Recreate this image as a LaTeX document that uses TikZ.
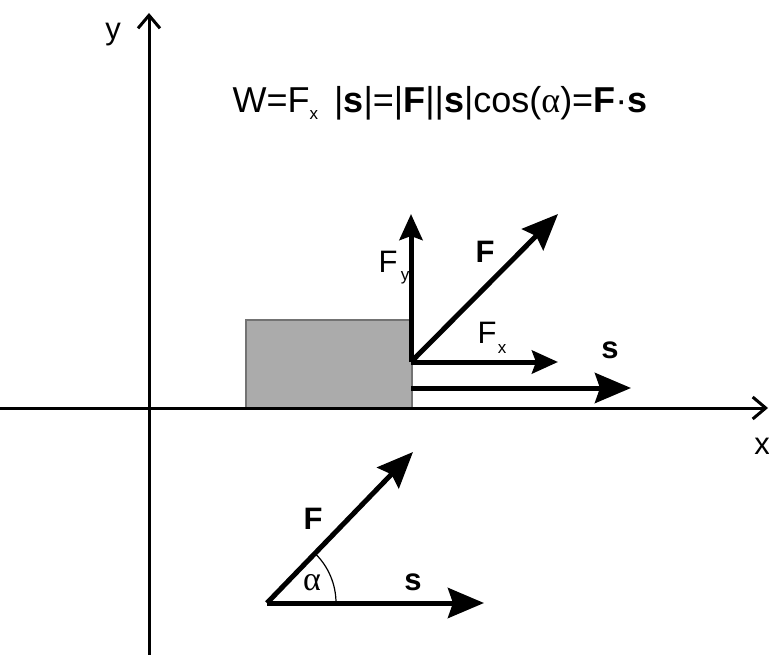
\documentclass[tikz,border=0pt]{standalone}
\usepackage{fontspec}
\setmainfont{Liberation Sans}
\newfontfamily\greekserif{Liberation Serif}
\usetikzlibrary{arrows.meta,calc}
\begin{document}
\begin{tikzpicture}[x=1pt,y=-1pt,
  axis/.style={line width=3pt,-{Straight Barb[length=13pt,width=22pt,line width=3pt]}},
  force/.style={line width=5pt,-{Stealth[length=36pt,width=30pt,inset=5pt]}},
  smallforce/.style={line width=5pt,-{Stealth[length=26pt,width=23pt,inset=4pt]}},
  lbl/.style={inner sep=0pt,font=\fontsize{31}{34}\selectfont},
  blbl/.style={inner sep=0pt,font=\fontsize{31}{34}\selectfont\bfseries},
  sub/.style={inner sep=0pt,font=\fontsize{17}{19}\selectfont}]
\useasboundingbox (0,0) rectangle (769,655);
% block
\draw[fill=black!33,draw=black!55,line width=1.2pt] (246,320) rectangle (412,408);
% axes
\coordinate (xs) at (0,408);
\coordinate (xe) at (768,408);
\coordinate (ys) at (149,655);
\coordinate (ye) at (149,13);
\draw[axis] (xs) -- (xe);
\draw[axis] (ys) -- (ye);
\node[lbl] (ylab) at (113,35) {y};
\node[lbl] (xlab) at (762,446) {x};
% formula
\node[inner sep=0pt,font=\fontsize{36}{40}\selectfont] (formula) at (440,103)
  {W=F{\fontsize{17}{19}\selectfont\raisebox{-7pt}{x}}\, |\textbf{s}|=|\textbf{F}||\textbf{s}|cos({\greekserif α})=\textbf{F}·\textbf{s}};
% forces on block
\coordinate (o) at (411,362);
\coordinate (fy) at (411,214);
\coordinate (f) at (558,214);
\coordinate (fx) at (558,362);
\coordinate (so) at (411,388);
\coordinate (se) at (631,388);
\draw[smallforce] (o) -- (fy);
\draw[force] (o) -- (f);
\draw[smallforce] (o) -- (fx);
\draw[force] (so) -- (se);
\node[lbl] (fylab) at (388,262) {F};
\node[sub] (fysub) at (405,278) {y};
\node[blbl] (flab) at (485,252) {F};
\node[lbl] (fxlab) at (487,333) {F};
\node[sub] (fxsub) at (502,349) {x};
\node[blbl] (slab) at (610,350) {s};
% lower diagram
\coordinate (p) at (267,603);
\coordinate (pf) at (413,452);
\coordinate (ps) at (484,603);
\draw[force] (p) -- (pf);
\draw[force] (p) -- (ps);
\draw[line width=1.2pt] ($(p)+(69,0)$) arc[start angle=0,end angle=-46,radius=69];
\node[lbl,font=\fontsize{34}{34}\greekserif] (alab) at (312,583) {α};
\node[blbl] (pflab) at (313,519) {F};
\node[blbl] (pslab) at (413,582) {s};
\end{tikzpicture}
\end{document}
